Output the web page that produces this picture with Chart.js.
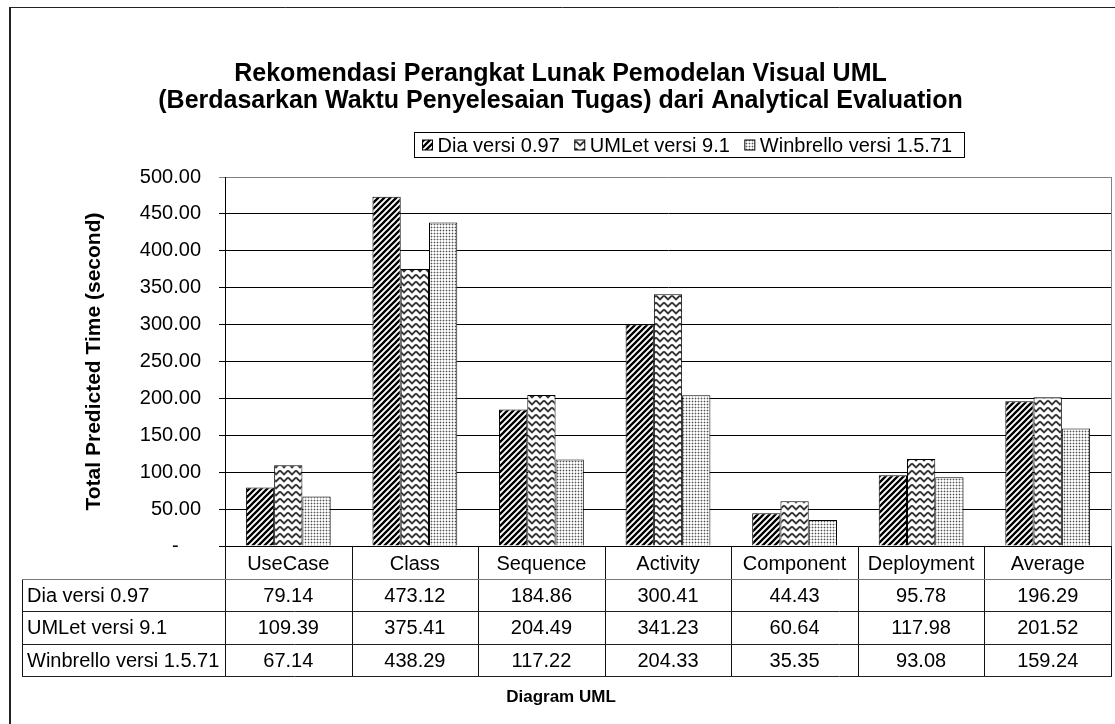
<!DOCTYPE html>
<html>
<head>
<meta charset="utf-8">
<script src="https://cdn.jsdelivr.net/npm/chart.js@4.4.0/dist/chart.umd.min.js"></script>
<style>
  body { margin: 0; background: #fff; }
  #wrap { width: 1115px; height: 724px; }
</style>
</head>
<body>
<div id="wrap"><canvas id="chart" width="1115" height="724"></canvas></div>
<script>
const categories = ['UseCase', 'Class', 'Sequence', 'Activity', 'Component', 'Deployment', 'Average'];
const seriesNames = ['Dia versi 0.97', 'UMLet versi 9.1', 'Winbrello versi 1.5.71'];
const diaValues = [79.14, 473.12, 184.86, 300.41, 44.43, 95.78, 196.29];
const umletValues = [109.39, 375.41, 204.49, 341.23, 60.64, 117.98, 201.52];
const winbrelloValues = [67.14, 438.29, 117.22, 204.33, 35.35, 93.08, 159.24];
const yMax = 500;
const yStep = 50;
const titleLines = ['Rekomendasi Perangkat Lunak Pemodelan Visual UML', '(Berdasarkan Waktu Penyelesaian Tugas) dari Analytical Evaluation'];
const yTitle = 'Total Predicted Time (second)';
const xTitle = 'Diagram UML';

const FONT = "'Liberation Sans', Arial, sans-serif";
const canvas = document.getElementById('chart');
const ctx = canvas.getContext('2d');

// fill patterns like the excel ones
function tile(w, h, draw) {
  const c = document.createElement('canvas');
  c.width = w; c.height = h;
  const g = c.getContext('2d');
  draw(g);
  return ctx.createPattern(c, 'repeat');
}
const diagPattern = tile(6, 6, g => {
  g.fillStyle = '#fff'; g.fillRect(0, 0, 6, 6);
  g.strokeStyle = '#000'; g.lineWidth = 2.3;
  g.beginPath();
  g.moveTo(-1, 7); g.lineTo(7, -1);
  g.moveTo(-7, 7); g.lineTo(1, -1);
  g.moveTo(5, 7); g.lineTo(13, -1);
  g.stroke();
});
const zigPattern = tile(8, 7, g => {
  g.fillStyle = '#fff'; g.fillRect(0, 0, 8, 7);
  g.strokeStyle = '#333'; g.lineWidth = 1.8;
  g.beginPath();
  g.moveTo(0, 1.5); g.lineTo(4, 5.5); g.lineTo(8, 1.5);
  g.stroke();
});
const dotPattern = tile(3, 3, g => {
  g.fillStyle = '#fff'; g.fillRect(0, 0, 3, 3);
  g.fillStyle = '#c8c8c8';
  g.fillRect(0, 2, 3, 1);
  g.fillRect(2, 0, 1, 3);
  g.fillStyle = '#555';
  g.fillRect(2, 2, 1, 1);
});
const fills = [diagPattern, zigPattern, dotPattern];
const seriesValues = [diaValues, umletValues, winbrelloValues];

const extras = {
  id: 'extras',
  afterDraw(chart) {
    const c = chart.ctx;
    const area = chart.chartArea;
    const x = chart.scales.x;
    c.save();

    // outer frame
    c.strokeStyle = '#222';
    c.lineWidth = 2;
    c.beginPath(); c.moveTo(10, 7); c.lineTo(10, 730); c.stroke();
    c.lineWidth = 1;
    c.beginPath(); c.moveTo(9, 7.5); c.lineTo(1120, 7.5); c.stroke();

    // plot right border
    c.strokeStyle = '#808080';
    c.beginPath(); c.moveTo(area.right + 0.5, area.top); c.lineTo(area.right + 0.5, area.bottom); c.stroke();

    // data table
    const half = (x.getPixelForValue(1) - x.getPixelForValue(0)) / 2;
    const tableLeft = 22;
    const headTop = area.bottom;
    const headH = 33;
    const rowH = 32.4;
    const tableBottom = headTop + headH + rowH * seriesNames.length;
    c.strokeStyle = '#111';
    c.lineWidth = 1;
    for (let i = 0; i <= categories.length; i++) {
      const px = Math.round(x.getPixelForValue(i) - half) + 0.5;
      c.beginPath(); c.moveTo(px, headTop); c.lineTo(px, tableBottom); c.stroke();
    }
    c.beginPath(); c.moveTo(tableLeft + 0.5, headTop + headH); c.lineTo(tableLeft + 0.5, tableBottom); c.stroke();
    for (let r = 0; r <= seriesNames.length; r++) {
      const py = Math.round(headTop + headH + rowH * r) + 0.5;
      c.strokeStyle = r === 0 ? '#777' : '#222';
      c.beginPath(); c.moveTo(tableLeft, py); c.lineTo(area.right + 1, py); c.stroke();
    }
    c.fillStyle = '#000';
    c.font = '20px ' + FONT;
    c.textBaseline = 'middle';
    seriesNames.forEach((name, r) => {
      const cy = headTop + headH + rowH * r + rowH / 2 + 1;
      c.textAlign = 'left';
      c.fillText(name, tableLeft + 5, cy);
      c.textAlign = 'center';
      seriesValues[r].forEach((v, i) => {
        c.fillText(v.toFixed(2), x.getPixelForValue(i), cy);
      });
    });

    // x title
    c.font = 'bold 17px ' + FONT;
    c.textAlign = 'center';
    c.fillText(xTitle, 561, 697);

    // legend with box
    c.font = '20px ' + FONT;
    const sw = 10, gapText = 5, gapItem = 15, padL = 8, padR = 12;
    let total = padL + padR;
    seriesNames.forEach((n, i) => {
      total += sw + gapText + c.measureText(n).width + (i < seriesNames.length - 1 ? gapItem : 0);
    });
    const boxL = Math.round(688.5 - total / 2) + 0.5;
    const boxT = 132.5, boxH = 25;
    c.strokeStyle = '#000';
    c.strokeRect(boxL, boxT, Math.round(total), boxH);
    let lx = boxL + padL;
    const ly = boxT + boxH / 2;
    seriesNames.forEach((n, i) => {
      c.fillStyle = fills[i];
      c.fillRect(lx, ly - 5, sw, sw);
      c.strokeStyle = '#000';
      c.strokeRect(lx, ly - 5, sw, sw);
      lx += sw + gapText;
      c.fillStyle = '#000';
      c.textAlign = 'left';
      c.fillText(n, lx, ly + 1);
      lx += c.measureText(n).width + gapItem;
    });
    c.restore();
  }
};

new Chart(ctx, {
  type: 'bar',
  data: {
    labels: categories,
    datasets: seriesNames.map((name, i) => ({
      label: name,
      data: seriesValues[i],
      backgroundColor: fills[i],
      borderColor: '#000',
      borderWidth: 1,
      categoryPercentage: 0.67,
      barPercentage: 1.0
    }))
  },
  options: {
    responsive: false,
    animation: false,
    devicePixelRatio: 1,
    layout: { padding: { left: 10, right: 4, top: 0, bottom: 0 } },
    plugins: {
      legend: { display: false },
      tooltip: { enabled: false },
      title: {
        display: true,
        text: titleLines,
        color: '#000',
        font: { family: FONT, size: 25, weight: 'bold', lineHeight: 1.08 },
        padding: { top: 61, bottom: 62 }
      }
    },
    scales: {
      y: {
        min: 0,
        max: yMax,
        afterFit: s => { s.width = 215; },
        ticks: {
          stepSize: yStep,
          padding: 18,
          color: '#000',
          font: { family: FONT, size: 20 },
          callback: v => v === 0 ? '-    ' : v.toFixed(2)
        },
        grid: {
          color: c => c.tick && c.tick.value === yMax ? '#808080' : '#000',
          tickLength: 6,
          drawTicks: true
        },
        border: { color: '#000' },
        title: {
          display: true,
          text: yTitle,
          color: '#000',
          font: { family: FONT, size: 21, weight: 'bold' },
          padding: { top: 72 }
        }
      },
      x: {
        afterFit: s => { s.height = 178; },
        grid: { display: false, drawTicks: false },
        border: { display: false },
        ticks: {
          padding: 6,
          maxRotation: 0,
          color: '#000',
          font: { family: FONT, size: 20 }
        }
      }
    }
  },
  plugins: [extras]
});
</script>
</body>
</html>
